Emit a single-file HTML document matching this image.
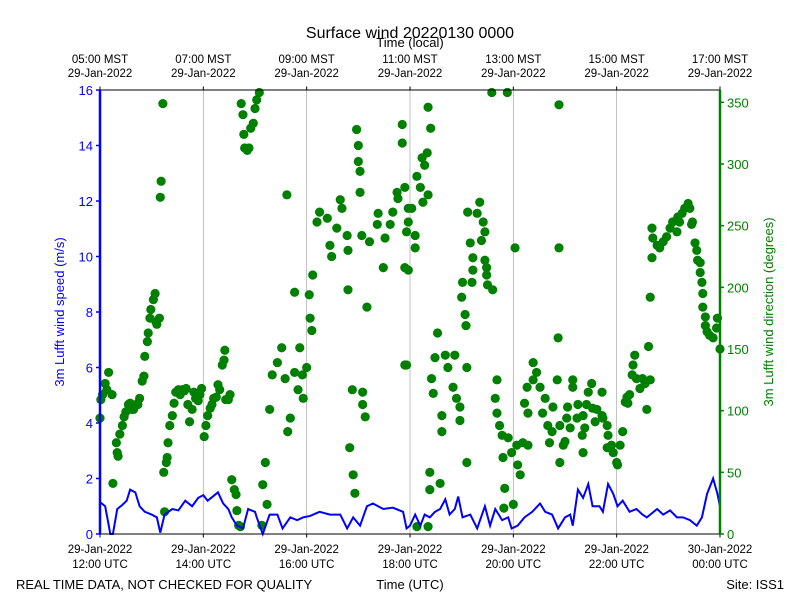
<!DOCTYPE html>
<html><head><meta charset="utf-8"><style>
body{margin:0;background:#fff;}
svg text{font-family:"Liberation Sans","DejaVu Sans",sans-serif;}
</style></head><body>
<svg id="chart" width="800" height="600" viewBox="0 0 800 600" xmlns="http://www.w3.org/2000/svg">
<text x="410" y="38" font-size="16" text-anchor="middle">Surface wind 20220130 0000</text>
<text x="410" y="47" font-size="13" text-anchor="middle">Time (local)</text>
<text x="410" y="589" font-size="13" text-anchor="middle">Time (UTC)</text>
<text x="16" y="589" font-size="13">REAL TIME DATA, NOT CHECKED FOR QUALITY</text>
<text x="784" y="589" font-size="13" text-anchor="end">Site: ISS1</text>
<text transform="translate(64,312) rotate(-90)" font-size="13" fill="#0000ff" text-anchor="middle">3m Lufft wind speed (m/s)</text>
<text transform="translate(773,312) rotate(-90)" font-size="13" fill="#008000" text-anchor="middle">3m Lufft wind direction (degrees)</text>
<g id="grid"></g><g id="marks"></g><g id="axes"></g>
</svg>
<script>
const xTickMinutes=[0,120,240,360,480,600,720];
const utcTickLabels=[["29-Jan-2022","12:00 UTC"],["29-Jan-2022","14:00 UTC"],["29-Jan-2022","16:00 UTC"],["29-Jan-2022","18:00 UTC"],["29-Jan-2022","20:00 UTC"],["29-Jan-2022","22:00 UTC"],["30-Jan-2022","00:00 UTC"]];
const localTickLabels=[["05:00 MST","29-Jan-2022"],["07:00 MST","29-Jan-2022"],["09:00 MST","29-Jan-2022"],["11:00 MST","29-Jan-2022"],["13:00 MST","29-Jan-2022"],["15:00 MST","29-Jan-2022"],["17:00 MST","29-Jan-2022"]];
const speedTicks=[0,2,4,6,8,10,12,14,16];
const dirTicks=[0,50,100,150,200,250,300,350];
const speedMinutes=[0,6,12,15,20,26,31,35,41,46,52,60,66,70,75,84,91,99,107,114,120,125,131,137,143,149,153,159,166,172,180,182,189,197,206,212,221,229,236,244,255,267,279,287,294,302,310,317,329,340,352,356,360,366,372,377,383,389,395,401,406,412,416,421,430,438,447,453,459,467,474,478,485,493,502,511,517,525,532,540,546,549,555,561,567,572,580,584,590,596,601,607,615,623,630,635,647,654,662,670,677,685,693,699,705,712,717,720];
const speedValues=[1.15,1.0,0,0,0.9,1.05,1.2,1.6,1.5,1.0,0.8,0.7,0.6,0.05,0.7,0.9,0.85,1.2,1.0,1.3,1.4,1.2,1.35,1.5,1.1,0.9,0.6,0.3,0.2,0.9,0.8,0.6,0,0.7,0.7,0.2,0.6,0.5,0.6,0.65,0.8,0.7,0.7,0.2,0.6,0.3,1.0,1.1,0.9,0.95,0.8,0.2,0.3,0.7,0.3,0.7,0.6,0.8,0.9,1.25,0.7,0.9,1.35,0.6,0.7,0.2,1.0,0.3,0.9,0.5,0.6,0.2,0.3,0.6,0.8,1.1,0.8,0.7,0.2,0.6,0.7,0.3,1.6,1.3,1.8,1.0,1.0,0.8,1.8,1.45,1.0,1.2,0.8,0.9,0.7,0.6,0.9,0.7,0.85,0.6,0.6,0.5,0.3,0.6,1.45,2.0,1.45,1.0];
const dirMinutes=[0,1,3,6,8,10,14,15,19,20,21,23,26,28,30,33,35,37,39,42,44,46,49,51,52,55,56,58,59,62,64,65,66,69,70,71,73,74,75,77,78,79,81,84,86,88,91,93,95,98,100,102,104,107,109,111,114,116,118,121,123,125,128,130,132,135,137,139,142,144,145,146,149,151,153,156,158,159,161,163,164,166,167,168,171,173,175,178,180,182,185,
188,189,192,194,197,200,206,211,215,221,218,226,232,235,230,236,217,226,240,244,246,243,247,252,255,264,267,269,275,279,281,287,288,288,290,294,296,293,305,305,308,298,300,300,302,302,304,310,313,322,323,329,331,337,340,345,346,351,351,354,354,356,358,
354,358,362,366,366,368,372,374,377,380,375,381,381,384,358,356,368,381,383,383,395,392,389,401,404,412,385,387,397,397,410,414,418,418,426,426,421,420,424,425,427,430,433,433,432,438,441,445,447,443,447,449,449,450,456,455,473,482,461,459,461,464,467,468,470,469,480,474,478,485,488,484,491,497,493,496,497,503,507,503,511,514,517,520,525,522,526,531,532,533,533,534,534,538,
540,542,543,549,549,546,554,555,561,561,563,560,565,567,571,572,575,577,583,583,584,589,590,589,594,596,600,601,604,607,610,612,613,615,618,619,621,623,627,630,633,635,639,637,639,641,641,642,647,650,654,658,662,665,670,671,673,676,679,683,685,687,688,691,693,694,697,697,699,700,700,703,703,705,708,712,716,717,720];
const dirDegrees=[94,109,113,122,117,131,113,41,74,66,63,81,88,95,99,105,106,101,101,105,105,110,124,128,144,156,163,175,182,190,195,172,170,175,273,286,349,50,18,58,62,74,88,96,106,115,117,113,117,116,118,105,91,101,115,110,108,113,118,79,88,96,102,105,110,111,121,117,137,141,149,109,109,113,44,36,32,19,7,6,349,340,324,313,311,313,329,333,345,352,358,
7,40,58,24,101,129,139,151,126,94,83,131,151,129,117,110,275,196,135,175,165,194,210,253,261,256,234,225,248,271,264,242,230,198,70,48,33,117,115,105,95,328,315,302,294,277,242,184,237,251,260,216,240,251,261,277,272,332,317,216,137,245,264,
281,253,264,242,232,290,281,305,299,309,269,275,346,329,214,137,6,6,50,36,41,163,143,145,135,145,126,114,96,83,119,110,103,92,135,58,204,192,178,169,261,236,224,214,204,260,269,253,245,238,222,216,210,202,198,358,358,232,125,110,98,88,80,62,37,21,24,78,66,56,48,72,74,72,106,119,98,139,131,125,119,98,110,88,83,74,103,125,159,348,232,88,58,72,
75,94,103,125,119,86,94,105,66,96,86,80,105,115,122,102,91,101,115,96,94,88,80,70,72,66,58,56,72,83,107,111,106,113,129,137,145,126,118,126,122,101,125,152,192,224,248,240,234,232,237,241,248,253,245,257,253,260,264,268,264,251,253,236,230,222,220,212,204,195,184,176,169,164,161,159,167,175,150];

const L=100,R=720,T=90,B=534,NS="http://www.w3.org/2000/svg";
const xS=m=>L+(R-L)*m/720, ySp=v=>B-(B-T)*v/16, yD=d=>B-(B-T)*d/360;
function mk(tag,attrs,parent){const e=document.createElementNS(NS,tag);for(const k in attrs)e.setAttribute(k,attrs[k]);parent.appendChild(e);return e;}
const grid=document.getElementById('grid'),marks=document.getElementById('marks'),axes=document.getElementById('axes');
xTickMinutes.forEach((m,i)=>{
  const x=xS(m);
  const g=mk('line',{x1:x,x2:x,y1:T,y2:B,stroke:'#b0b0b0','stroke-width':0.8},grid);
  
  
  const tb=mk('line',{x1:x,x2:x,y1:B,y2:B+3.5,stroke:'#000'},axes);
  
  
  const tt=mk('line',{x1:x,x2:x,y1:T,y2:T-3.5,stroke:'#000'},axes);
  
  
  const t1=mk('text',{x:x,y:553,'font-size':11.5,'text-anchor':'middle'},axes);t1.textContent=utcTickLabels[i][0];
  
  
  const t2=mk('text',{x:x,y:568,'font-size':11.5,'text-anchor':'middle'},axes);t2.textContent=utcTickLabels[i][1];
  
  
  const t3=mk('text',{x:x,y:63,'font-size':11.5,'text-anchor':'middle'},axes);t3.textContent=localTickLabels[i][0];
  
  
  const t4=mk('text',{x:x,y:77,'font-size':11.5,'text-anchor':'middle'},axes);t4.textContent=localTickLabels[i][1];
  
  
});
dirMinutes.forEach((m,i)=>{
  const c=mk('circle',{cx:xS(m),cy:yD(dirDegrees[i]),r:4.6,fill:'#008000'},marks);
  
  
});
const pl=mk('polyline',{points:speedMinutes.map((m,i)=>xS(m)+','+ySp(speedValues[i])).join(' '),fill:'none',stroke:'#0000ff','stroke-width':2},marks);


const fr1=mk('line',{x1:L,x2:R,y1:T,y2:T,stroke:'#000','stroke-width':1},axes);


const fr2=mk('line',{x1:L,x2:R,y1:B,y2:B,stroke:'#000','stroke-width':1},axes);


const ls=mk('line',{x1:L,x2:L,y1:T,y2:B,stroke:'#0000ff','stroke-width':2.5},axes);


const rs=mk('line',{x1:R,x2:R,y1:T,y2:B,stroke:'#008000','stroke-width':2.5},axes);


speedTicks.forEach(v=>{
  const y=ySp(v);
  const t=mk('line',{x1:L-4,x2:L,y1:y,y2:y,stroke:'#0000ff','stroke-width':1.5},axes);
  
  
  const tx=mk('text',{x:L-7,y:y+5,'font-size':13,'text-anchor':'end',fill:'#0000ff'},axes);tx.textContent=v;
  
  
});
dirTicks.forEach(v=>{
  const y=yD(v);
  const t=mk('line',{x1:R,x2:R+4,y1:y,y2:y,stroke:'#008000','stroke-width':1.5},axes);
  
  
  const tx=mk('text',{x:R+7,y:y+5,'font-size':13,fill:'#008000'},axes);tx.textContent=v;
  
  
});
</script>
</body></html>
